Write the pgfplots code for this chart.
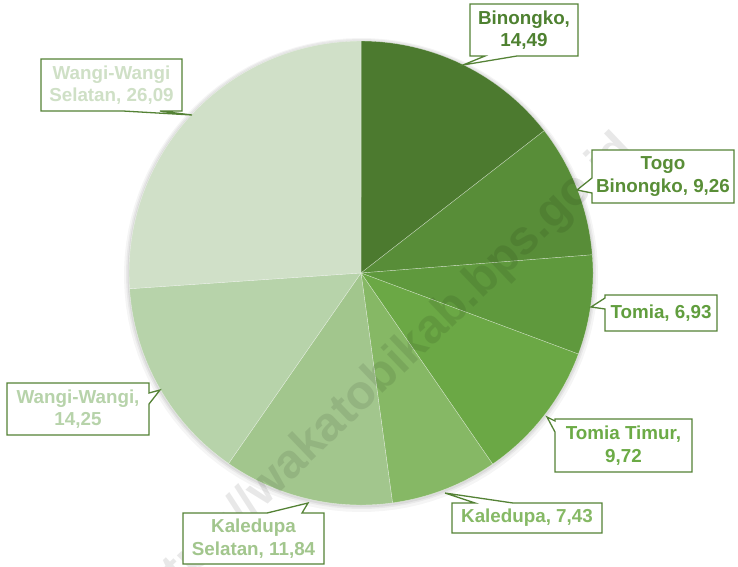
\documentclass[border=0pt]{standalone}
\usepackage{pgfplots}
\usepackage{pgfplotstable}
\pgfplotsset{compat=1.18}
\usepackage{fontspec}
\setmainfont{Liberation Sans}
\definecolor{c1}{HTML}{4C7A2F}
\definecolor{c2}{HTML}{588D38}
\definecolor{c3}{HTML}{5F993D}
\definecolor{c4}{HTML}{6BA845}
\definecolor{c5}{HTML}{86B865}
\definecolor{c6}{HTML}{A2C68D}
\definecolor{c7}{HTML}{B7D3AA}
\definecolor{c8}{HTML}{D0E0C8}
\definecolor{t1}{HTML}{4E8130}
\definecolor{t2}{HTML}{598E37}
\definecolor{t3}{HTML}{619E3E}
\definecolor{t4}{HTML}{6CAB46}
\definecolor{t5}{HTML}{86B965}
\definecolor{t6}{HTML}{A2C68D}
\definecolor{t7}{HTML}{B7D3AA}
\definecolor{t8}{HTML}{CFE0C6}
\definecolor{bord}{HTML}{548235}

\pgfplotstableread{
name value col
Binongko 14.49 c1
TogoBinongko 9.26 c2
Tomia 6.93 c3
TomiaTimur 9.72 c4
Kaledupa 7.43 c5
KaledupaSelatan 11.84 c6
WangiWangi 14.25 c7
WangiWangiSelatan 26.09 c8
}\piedata

\begin{document}
\begin{tikzpicture}
\begin{axis}[x=1pt, y=1pt, xmin=0, xmax=738, ymin=0, ymax=566, y dir=reverse,
  hide axis, clip=false, scale only axis]
\coordinate (BL) at (axis cs:0,566);
\coordinate (TR) at (axis cs:738,0);
% soft shadow
\addplot[draw=none, fill=black, fill opacity=0.04, domain=0:360, samples=120] ({361+237*cos(x)},{275+237*sin(x)}) -- cycle;
\addplot[draw=none, fill=black, fill opacity=0.05, domain=0:360, samples=120] ({361+235*cos(x)},{274+235*sin(x)}) -- cycle;
\addplot[draw=none, fill=black, fill opacity=0.06, domain=0:360, samples=120] ({361+233.5*cos(x)},{274+233.5*sin(x)}) -- cycle;
% pie slices
\def\cum{-90}
\pgfplotsforeachungrouped \i in {0,...,7} {
  \pgfplotstablegetelem{\i}{value}\of\piedata \let\sliceval\pgfplotsretval
  \pgfplotstablegetelem{\i}{col}\of\piedata \let\slicecol\pgfplotsretval
  \pgfmathsetmacro\endang{\cum+3.6*\sliceval}
  \edef\cmd{\noexpand\addplot[fill=\slicecol, draw=white, draw opacity=0.5, line width=0.4pt, domain=\cum:\endang, samples=90] ({361+232*cos(x)},{273+232*sin(x)}) -- (axis cs:361,273) -- cycle;}
  \cmd
  \global\let\cum\endang
}
% watermark
\begin{scope}
\clip (axis cs:0,0) rectangle (axis cs:738,566);
\node[rotate=43.7, anchor=base east, font=\fontsize{48}{48}\selectfont\bfseries, text=black, text opacity=0.09] at (axis cs:638,150) {https://wakatobikab.bps.go.id};
\end{scope}
% callouts
\tikzset{co/.style={draw=bord, line width=1.3pt, fill=white, line join=miter}}
\tikzset{lb/.style={font=\fontsize{18.8}{22.5}\selectfont\bfseries, align=center, inner sep=0pt}}
\draw[co] (axis cs:470,4) -- (axis cs:578,4) -- (axis cs:578,56) -- (axis cs:517,56) -- (axis cs:463,65) -- (axis cs:485,56) -- (axis cs:470,56) -- cycle;
\node[lb, text=t1] at (axis cs:524,30) {Binongko,\\14,49};
\draw[co] (axis cs:592,150) -- (axis cs:734,150) -- (axis cs:734,203) -- (axis cs:592,203) -- (axis cs:592,193) -- (axis cs:577,190) -- (axis cs:592,178) -- cycle;
\node[lb, text=t2] at (axis cs:663,176.5) {Togo\\Binongko, 9,26};
\draw[co] (axis cs:605,295) -- (axis cs:717,295) -- (axis cs:717,331) -- (axis cs:605,331) -- (axis cs:605,309) -- (axis cs:591,307) -- (axis cs:605,298) -- cycle;
\node[lb, text=t3] at (axis cs:661,313) {Tomia, 6,93};
\draw[co] (axis cs:555,419) -- (axis cs:692,419) -- (axis cs:692,472) -- (axis cs:555,472) -- (axis cs:555,432) -- (axis cs:547,417) -- (axis cs:555,421) -- cycle;
\node[lb, text=t4] at (axis cs:623.5,445.5) {Tomia Timur,\\9,72};
\draw[co] (axis cs:452,503) -- (axis cs:475,503) -- (axis cs:445,493) -- (axis cs:513,503) -- (axis cs:602,503) -- (axis cs:602,533) -- (axis cs:452,533) -- cycle;
\node[lb, text=t5] at (axis cs:527,518) {Kaledupa, 7,43};
\draw[co] (axis cs:183,513) -- (axis cs:267,513) -- (axis cs:308,503) -- (axis cs:302,513) -- (axis cs:324,513) -- (axis cs:324,564) -- (axis cs:183,564) -- cycle;
\node[lb, text=t6] at (axis cs:253.5,538.5) {Kaledupa\\Selatan, 11,84};
\draw[co] (axis cs:7,383) -- (axis cs:149,383) -- (axis cs:149,393) -- (axis cs:160,390) -- (axis cs:149,404) -- (axis cs:149,435) -- (axis cs:7,435) -- cycle;
\node[lb, text=t7] at (axis cs:78,409) {Wangi-Wangi,\\14,25};
\draw[co] (axis cs:41,59) -- (axis cs:182,59) -- (axis cs:182,111) -- (axis cs:160,111) -- (axis cs:192,115) -- (axis cs:123,111) -- (axis cs:41,111) -- cycle;
\node[lb, text=t8] at (axis cs:111.5,85) {Wangi-Wangi\\Selatan, 26,09};
\end{axis}
\pgfresetboundingbox
\path (BL) rectangle (TR);
\end{tikzpicture}
\end{document}
